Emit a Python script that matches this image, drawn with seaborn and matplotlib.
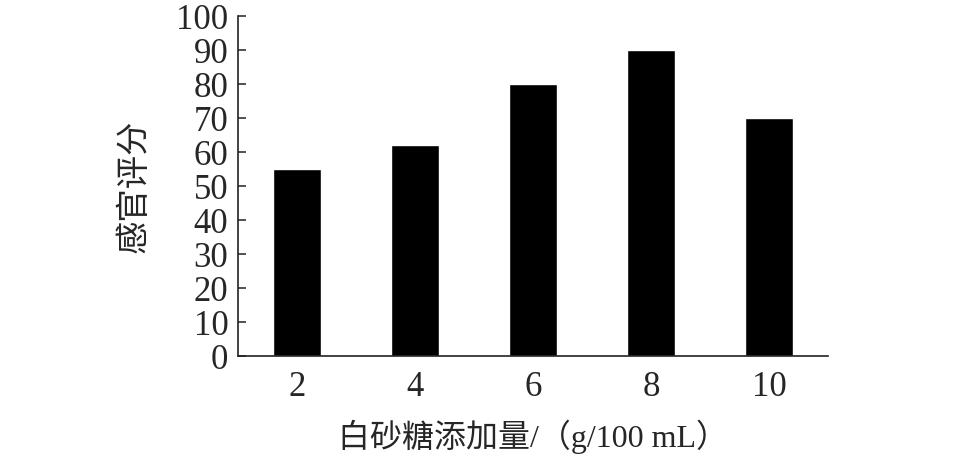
import matplotlib
matplotlib.use("Agg")
import matplotlib.pyplot as plt
import seaborn as sns
import pandas as pd

categories = ["2", "4", "6", "8", "10"]
scores = [55, 62, 80, 90, 70]
yticks = [0, 10, 20, 30, 40, 50, 60, 70, 80, 90, 100]

sns.set_style("white")
plt.rcParams['font.family'] = ['Liberation Serif', 'Noto Sans CJK SC']

df = pd.DataFrame({"sugar": categories, "score": scores})

fig = plt.figure(figsize=(9.58, 4.69), dpi=100)
ax = fig.add_axes([238/958, 1-356/469, (828-238)/958, (356-16)/469])
sns.barplot(data=df, x="sugar", y="score", color="black", width=0.41,
            saturation=1, ax=ax, order=categories)

ax.set_xlim(-0.5, 4.5)
ax.set_ylim(0, 100)
ax.set_yticks(yticks)
ax.set_yticklabels([str(v) for v in yticks], fontsize=25)
ax.set_xticks(range(len(categories)))
ax.set_xticklabels(categories, fontsize=25)
ax.tick_params(axis='x', which='major', length=0, pad=11)
ax.set_xticks([i - 0.5 for i in range(len(categories) + 1)], minor=True)
ax.tick_params(axis='x', which='minor', direction='in', length=6, width=1.1, color='#222222')
ax.tick_params(axis='y', direction='in', length=6, width=1.1, color='#222222', pad=7, left=True)

for s in ['top', 'right']:
    ax.spines[s].set_visible(False)
for s in ['left', 'bottom']:
    ax.spines[s].set_color('#222222')
    ax.spines[s].set_linewidth(1.2)

ax.set_xlabel("白砂糖添加量/（g/100 mL）", fontsize=23, labelpad=11,
              family=['Liberation Serif', 'Noto Sans CJK SC'])
ax.set_ylabel("感官评分", fontsize=24, labelpad=18,
              family=['Noto Sans CJK SC', 'Liberation Serif'])

fig.savefig("out.png", dpi=100)
